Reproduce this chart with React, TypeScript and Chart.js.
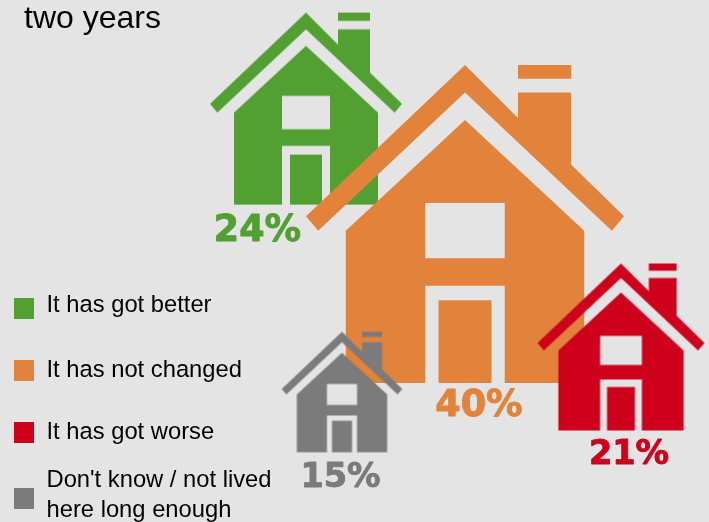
import React, { useEffect, useRef } from "react";
import { Chart, registerables } from "chart.js";

Chart.register(...registerables);

// Data
const titleLines = ["two years"];
const categories = ["It has got better", "It has not changed", "It has got worse", "Don't know / not lived|here long enough"];
const values = [24, 40, 21, 15];

// Layout and style
const WIDTH = 709;
const HEIGHT = 522;
const BG = "#e4e4e4";
const colours = ["#51a031", "#e3833b", "#cf001c", "#7b7b7b"];
const houseX = [306, 465, 621, 342];
const houseY = [108.6, 224, 347, 392];
const houseSize = [192, 318, 167, 120.5];
const drawOrder = [4, 3, 1, 2];
const pctX = [257.5, 479, 629, 340.5];
const pctY = [240.5, 416, 464.3, 486.7];
const pctFont = [36.5, 36.5, 33.5, 33.5];
const boxY = [298, 360, 422, 488];
const legendBaselines = [[312.3], [376.7], [438.5], [486.7, 517.3]];

function makeHouse(size: number, colour: string): HTMLCanvasElement {
  const dim = Math.ceil(size) + 2;
  const c = document.createElement("canvas");
  c.width = dim;
  c.height = dim;
  const g = c.getContext("2d")!;
  const k = size / 24;
  g.translate(dim / 2, dim / 2);
  g.scale(k, k);
  g.translate(-12, -12);
  g.fillStyle = colour;
  const poly = (p: Path2D, pts: number[][]) => {
    pts.forEach(([x, y], i) => (i ? p.lineTo(x, y) : p.moveTo(x, y)));
    p.closePath();
  };
  const roof = new Path2D();
  poly(roof, [[12, 0], [16, 4], [16, 2.08], [20, 2.08], [20, 7.5], [24, 11.41], [23.08, 12.5], [12, 2.08], [0.92, 12.5], [0, 11.41]]);
  poly(roof, [[16, 0], [20, 0], [20, 1.04], [16, 1.04]]);
  g.fill(roof);
  const body = new Path2D();
  poly(body, [[3, 12.5], [12, 4.16], [21, 12.5], [21, 24], [15, 24], [15, 16.66], [9, 16.66], [9, 24], [3, 24]]);
  poly(body, [[10, 17.75], [14, 17.75], [14, 24], [10, 24]]);
  g.fill(body);
  g.globalCompositeOperation = "destination-out";
  g.fillRect(9, 10.41, 6, 4.17);
  return c;
}

const annotations = {
  id: "annotations",
  beforeDraw(chart: any) {
    const { ctx } = chart;
    ctx.save();
    ctx.fillStyle = BG;
    ctx.fillRect(0, 0, WIDTH, HEIGHT);
    ctx.restore();
  },
  afterDraw(chart: any) {
    const { ctx } = chart;
    ctx.save();
    ctx.textAlign = "left";
    ctx.textBaseline = "alphabetic";
    ctx.fillStyle = "#000";
    ctx.font = '32px "Liberation Sans"';
    titleLines.forEach((t) => ctx.fillText(t, 24, 28));
    categories.forEach((label, i) => {
      ctx.fillStyle = colours[i];
      ctx.fillRect(14, boxY[i], 20, 21);
      ctx.fillStyle = "#000";
      ctx.font = '23.75px "Liberation Sans"';
      label.split("|").forEach((line, j) => ctx.fillText(line, 46.5, legendBaselines[i][j]));
    });
    ctx.textAlign = "center";
    ctx.lineJoin = "round";
    ctx.lineWidth = 0.9;
    values.forEach((v, i) => {
      ctx.fillStyle = colours[i];
      ctx.strokeStyle = colours[i];
      ctx.font = `bold ${pctFont[i]}px "DejaVu Sans"`;
      ctx.fillText(`${v}%`, pctX[i], pctY[i]);
      ctx.strokeText(`${v}%`, pctX[i], pctY[i]);
    });
    ctx.restore();
  },
};

export default function App() {
  const ref = useRef<HTMLCanvasElement>(null);
  useEffect(() => {
    document.body.style.margin = "0";
    document.body.style.overflow = "hidden";
    const chart = new Chart(ref.current!, {
      type: "scatter",
      data: {
        datasets: categories.map((label, i) => ({
          label,
          data: [{ x: houseX[i], y: houseY[i] }],
          order: drawOrder[i],
          clip: false,
          pointStyle: makeHouse(houseSize[i], colours[i]),
          pointRadius: houseSize[i] / 2,
          backgroundColor: colours[i],
        })),
      } as any,
      options: {
        responsive: false,
        animation: false,
        devicePixelRatio: 1,
        layout: { padding: 0, autoPadding: false },
        plugins: { legend: { display: false }, title: { display: false }, tooltip: { enabled: false } },
        scales: {
          x: { type: "linear", display: false, min: 0, max: WIDTH },
          y: { type: "linear", display: false, min: 0, max: HEIGHT, reverse: true },
        },
      },
      plugins: [annotations],
    });
    return () => chart.destroy();
  }, []);
  return <canvas ref={ref} width={WIDTH} height={HEIGHT} style={{ display: "block", width: WIDTH, height: HEIGHT }} />;
}
